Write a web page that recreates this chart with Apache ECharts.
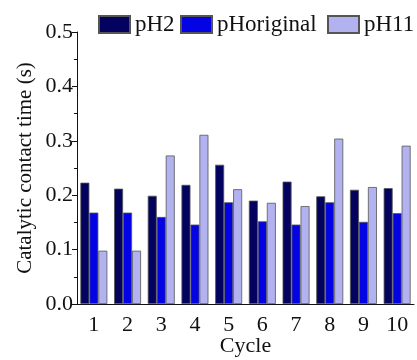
<!DOCTYPE html>
<html>
<head>
<meta charset="utf-8">
<script src="https://cdn.jsdelivr.net/npm/echarts@6/dist/echarts.min.js"></script>
<style>
  html, body { margin: 0; padding: 0; background: #fff; }
  #chart { width: 417px; height: 360px; }
</style>
</head>
<body>
<div id="chart"></div>
<script>
// data
var cycles = ['1', '2', '3', '4', '5', '6', '7', '8', '9', '10'];
var pH2 = [0.223, 0.212, 0.199, 0.219, 0.256, 0.190, 0.225, 0.198, 0.210, 0.213];
var pHoriginal = [0.168, 0.168, 0.160, 0.146, 0.187, 0.152, 0.146, 0.187, 0.151, 0.167];
var pH11 = [0.098, 0.098, 0.273, 0.311, 0.211, 0.186, 0.180, 0.304, 0.215, 0.291];

var font = '"Liberation Serif", "Times New Roman", serif';

function init(eleId) {
  return echarts.init(document.getElementById(eleId), null, { renderer: 'canvas' });
}

// 图例：三个单独放
function legendAt(name, left) {
  return {
    data: [{ name: name, icon: 'rect' }],
    left: left,
    top: 13,
    itemWidth: 31,
    itemHeight: 17,
    padding: 0,
    textStyle: { fontFamily: font, fontSize: 23, color: '#111' }
  };
}

function bar(name, data, color) {
  return {
    name: name,
    type: 'bar',
    data: data,
    barGap: '0%',
    barCategoryGap: '20%',
    itemStyle: { color: color, borderColor: '#555', borderWidth: 0.8 }
  };
}

var chart = init('chart');
chart.setOption({
  animation: false,
  legend: [legendAt('pH2', 98), legendAt('pHoriginal', 180), legendAt('pH11', 327)],
  grid: { left: 77, right: 3, top: 32, bottom: 56, outerBoundsMode: 'none', containLabel: false },
  xAxis: [{
    type: 'category',
    data: cycles,
    name: 'Cycle',
    nameLocation: 'middle',
    nameGap: 31,
    nameMoveOverlap: false,
    nameTextStyle: { fontFamily: font, fontSize: 22, color: '#111' },
    axisLine: { lineStyle: { color: '#111', width: 1 } },
    axisTick: { alignWithLabel: true, length: 5, lineStyle: { color: '#111' } },
    axisLabel: { fontFamily: font, fontSize: 22, color: '#111', margin: 10 }
  }, {
    // minor ticks between cycles
    type: 'category',
    data: cycles,
    position: 'bottom',
    axisLine: { show: false },
    axisTick: { length: 3, lineStyle: { color: '#111' } },
    axisLabel: { show: false }
  }],
  yAxis: {
    type: 'value',
    min: 0,
    max: 0.5,
    interval: 0.1,
    name: 'Catalytic contact time (s)',
    nameLocation: 'middle',
    nameGap: 41,
    nameMoveOverlap: false,
    nameTextStyle: { fontFamily: font, fontSize: 21, color: '#111' },
    axisLine: { show: true, lineStyle: { color: '#111', width: 1 } },
    axisTick: { show: true, length: 5, lineStyle: { color: '#111' } },
    minorTick: { show: true, splitNumber: 2, length: 3, lineStyle: { color: '#111' } },
    splitLine: { show: false },
    axisLabel: {
      fontFamily: font, fontSize: 22, color: '#111', margin: 4,
      formatter: function (v) { return v.toFixed(1); }
    }
  },
  series: [
    bar('pH2', pH2, '#03035f'),
    bar('pHoriginal', pHoriginal, '#0303e4'),
    bar('pH11', pH11, '#b2b2f0')
  ]
});
</script>
</body>
</html>
